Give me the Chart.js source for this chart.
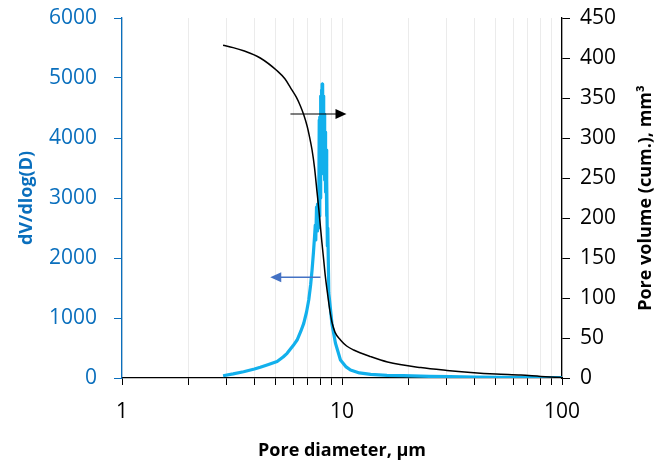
<!DOCTYPE html>
<html>
<head>
<meta charset="utf-8">
<script src="https://cdn.jsdelivr.net/npm/chart.js@4.4.0/dist/chart.umd.min.js"></script>
<style>
html,body{margin:0;padding:0;background:#fff;}
#wrap{width:654px;height:460px;}
</style>
</head>
<body>
<div id="wrap"><canvas id="c" width="654" height="460"></canvas></div>
<script>
// ---- data ----
const xTickValues = [1,2,3,4,5,6,7,8,9,10,20,30,40,50,60,70,80,90,100];
const xLabelValues = [1,10,100];
const leftTicks = [0,1000,2000,3000,4000,5000,6000];
const rightTicks = [0,50,100,150,200,250,300,350,400,450];

// dV/dlog(D) series (pore diameter µm, value)
const dvX = [2.88,3.2,3.57,4.0,4.25,4.6,5.07,5.4,5.63,6.0,6.25,6.5,6.7,6.9,7.06,7.2,7.31,7.42,7.5,7.56,7.6,7.66,7.7,7.74,7.78,7.82,7.85,7.88,7.91,7.94,7.97,8.0,8.03,8.06,8.09,8.12,8.15,8.18,8.21,8.24,8.27,8.3,8.34,8.38,8.42,8.46,8.5,8.54,8.58,8.62,8.71,8.87,9.0,9.34,9.84,10.4,10.93,12,13.5,16,19,25,31,40,52,70,100];
const dvY = [38,68,105,150,178,220,275,350,411,540,633,780,911,1100,1300,1550,1800,2100,2350,2550,2300,2850,2450,2900,2500,3100,2550,4300,2700,4350,3000,4700,3400,4800,3600,4900,3900,4880,3700,4700,3500,4400,3300,4100,3100,3800,2700,3300,2200,2500,1417,1133,900,578,300,190,133,85,61,45,38,28,22,16,12,8,5];

// cumulative pore volume series (pore diameter µm, mm³)
const cumX = [2.88,3.2,3.57,4.25,5.07,5.5,5.83,6.2,6.47,6.7,6.94,7.1,7.31,7.5,7.71,7.85,7.98,8.1,8.26,8.4,8.59,8.8,9.0,9.3,9.84,10.5,11.3,13.5,16.1,22.8,30,38.5,50,65,80,100];
const cumY = [416,413,409,400,384,374,363,351,340,329,315,303,285,263,231,210,189,170,147,127,106,85,70,57,47.5,40,35,26.7,20,13,9.5,7,5,3.7,2,0.5];

// annotation arrows (data units)
const arrowRight = {from:5.83, to:10.48, value:330, axis:'y2'};
const arrowLeft  = {from:7.98, to:4.72, value:1678, axis:'y'};

const FONT = '"Open Sans", "DejaVu Sans", sans-serif';
const BLUE_AXIS = '#0a6fbd';
const BLUE_LINE = '#12b0ec';

const dvData = dvX.map((x,i)=>({x, y:dvY[i]}));
const cumData = cumX.map((x,i)=>({x, y:cumY[i]}));

function drawArrow(ctx, x0, y0, x1, color, lw, headLen, headHalf){
  const dir = Math.sign(x1-x0);
  ctx.save();
  ctx.strokeStyle = color; ctx.fillStyle = color; ctx.lineWidth = lw;
  ctx.beginPath(); ctx.moveTo(x0,y0); ctx.lineTo(x1 - dir*headLen*0.8, y0); ctx.stroke();
  ctx.beginPath();
  ctx.moveTo(x1, y0);
  ctx.lineTo(x1 - dir*headLen, y0 - headHalf);
  ctx.lineTo(x1 - dir*headLen, y0 + headHalf);
  ctx.closePath(); ctx.fill();
  ctx.restore();
}

const extras = {
  id:'extras',
  afterDatasetsDraw(chart){
    const {ctx, scales} = chart;
    const xs = scales.x;
    const a1 = arrowRight, a2 = arrowLeft;
    drawArrow(ctx, xs.getPixelForValue(a1.from), scales[a1.axis].getPixelForValue(a1.value),
      xs.getPixelForValue(a1.to), '#000', 1.2, 11, 5);
    drawArrow(ctx, xs.getPixelForValue(a2.from), scales[a2.axis].getPixelForValue(a2.value),
      xs.getPixelForValue(a2.to), '#4472c4', 1.5, 11, 5);
  },
  afterDraw(chart){
    const {ctx, chartArea} = chart;
    const r = chart.scales.y2;
    ctx.save();
    ctx.translate(r.left + 84, (chartArea.top + chartArea.bottom)/2);
    ctx.rotate(-Math.PI/2);
    ctx.font = 'bold 18px ' + FONT;
    ctx.fillStyle = '#000';
    ctx.textAlign = 'center';
    ctx.textBaseline = 'middle';
    ctx.fillText('Pore volume (cum.), mm³', 0, 0);
    ctx.restore();
  }
};

function fitV(w){ return function(s){ s.width = w; s.paddingTop = 0; s.paddingBottom = 0; }; }

new Chart(document.getElementById('c'), {
  type:'line',
  data:{
    datasets:[
      {label:'Pore volume', data:cumData, yAxisID:'y2', borderColor:'#000', borderWidth:1.5,
       pointRadius:0, cubicInterpolationMode:'monotone', order:0},
      {label:'dV/dlog(D)', data:dvData, yAxisID:'y', borderColor:BLUE_LINE, borderWidth:3.2,
       pointRadius:0, tension:0, order:1, borderJoinStyle:'round'}
    ]
  },
  options:{
    responsive:false, animation:false,
    layout:{padding:{top:18,left:0,right:0,bottom:0}},
    plugins:{legend:{display:false}, tooltip:{enabled:false}},
    scales:{
      x:{
        type:'logarithmic', min:1, max:100,
        afterBuildTicks(s){ s.ticks = xTickValues.map(v=>({value:v})); },
        afterFit(s){ s.height = 82; s.paddingLeft = 0; s.paddingRight = 0; },
        ticks:{autoSkip:false, maxRotation:0, padding:14, color:'#000',
          font:{family:FONT, size:21},
          callback(v){ return xLabelValues.includes(v) ? String(v) : ''; }},
        grid:{color:'#ebebeb', lineWidth:1, tickColor:'#000', tickLength:7, drawOnChartArea:true},
        border:{color:'#000', width:1.3},
        title:{display:true, text:'Pore diameter, µm', color:'#000',
          font:{family:FONT, size:18, weight:'bold'}, padding:{top:0,bottom:-2}}
      },
      y:{
        position:'left', min:0, max:6000,
        afterBuildTicks(s){ s.ticks = leftTicks.map(v=>({value:v})); },
        afterFit: fitV(122),
        ticks:{color:BLUE_AXIS, padding:17, font:{family:FONT, size:21},
          callback(v){ return String(v); }},
        grid:{drawOnChartArea:false, tickColor:BLUE_AXIS, tickLength:8},
        border:{color:BLUE_AXIS, width:1.3},
        title:{display:true, text:'dV/dlog(D)', color:BLUE_AXIS,
          font:{family:FONT, size:18, weight:'bold'}, padding:{top:16,bottom:0}}
      },
      y2:{
        position:'right', min:0, max:450,
        afterBuildTicks(s){ s.ticks = rightTicks.map(v=>({value:v})); },
        afterFit: fitV(92),
        ticks:{color:'#000', padding:10, font:{family:FONT, size:21},
          callback(v){ return String(v); }},
        grid:{drawOnChartArea:false, tickColor:'#000', tickLength:8},
        border:{color:'#000', width:1.3}
      }
    }
  },
  plugins:[extras]
});
</script>
</body>
</html>
